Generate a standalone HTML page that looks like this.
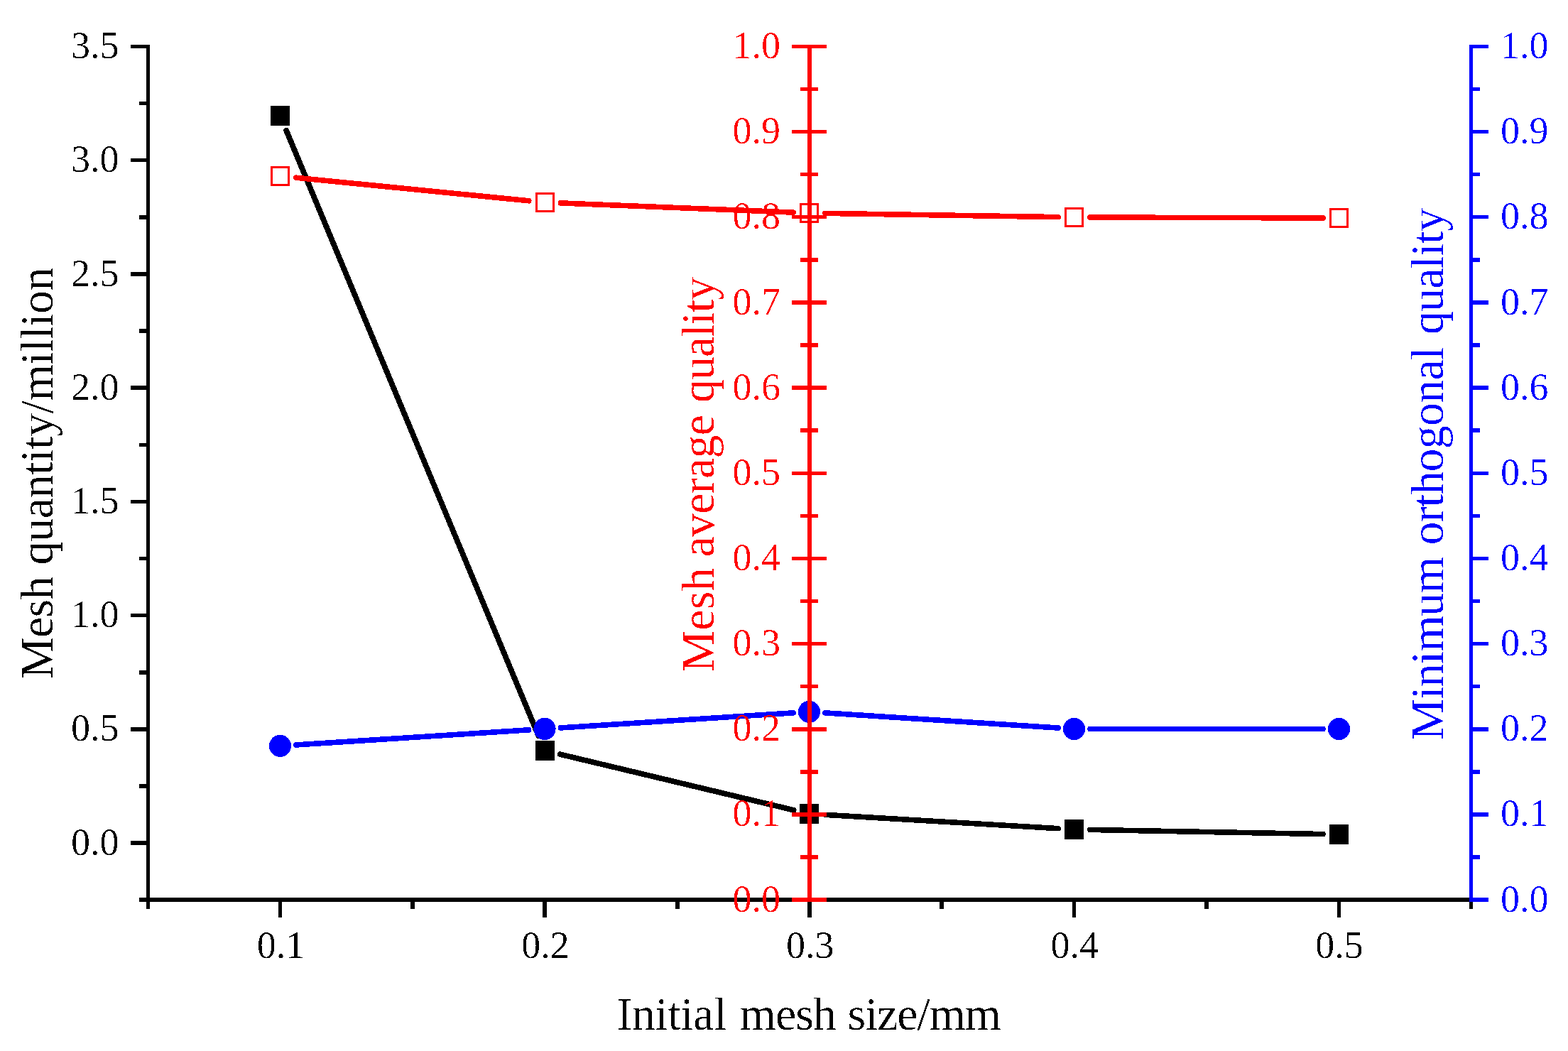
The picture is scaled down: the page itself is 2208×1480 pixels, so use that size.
<!DOCTYPE html>
<html lang="en">
<head>
<meta charset="utf-8">
<title>Mesh independence chart</title>
<style>
html, body { margin: 0; padding: 0; background: #ffffff; }
body { width: 2208px; height: 1480px; overflow: hidden; }
svg { display: block; }
svg text { font-family: "Liberation Serif", serif; white-space: pre; }
svg rect, svg line, svg circle { shape-rendering: crispEdges; }
</style>
</head>
<body>
<svg width="2208" height="1480" viewBox="0 0 2208 1480">
<defs>
<filter id="crisp" filterUnits="userSpaceOnUse" x="0" y="0" width="2208" height="1480" color-interpolation-filters="sRGB">
<feComponentTransfer><feFuncA type="discrete" tableValues="0 0 1"/></feComponentTransfer>
</filter>
</defs>
<rect x="0" y="0" width="2208" height="1480" fill="#ffffff"/>
<g id="layer-black">
<rect x="206" y="63" width="5" height="1207" fill="#000000"/>
<rect x="184" y="1184" width="22" height="6" fill="#000000"/>
<rect x="184" y="1024" width="22" height="6" fill="#000000"/>
<rect x="184" y="864" width="22" height="5" fill="#000000"/>
<rect x="184" y="704" width="22" height="5" fill="#000000"/>
<rect x="184" y="543" width="22" height="6" fill="#000000"/>
<rect x="184" y="383" width="22" height="6" fill="#000000"/>
<rect x="184" y="223" width="22" height="5" fill="#000000"/>
<rect x="184" y="63" width="22" height="5" fill="#000000"/>
<rect x="196" y="1265" width="10" height="5" fill="#000000"/>
<rect x="196" y="1104" width="10" height="6" fill="#000000"/>
<rect x="196" y="944" width="10" height="6" fill="#000000"/>
<rect x="196" y="784" width="10" height="5" fill="#000000"/>
<rect x="196" y="624" width="10" height="5" fill="#000000"/>
<rect x="196" y="463" width="10" height="6" fill="#000000"/>
<rect x="196" y="303" width="10" height="6" fill="#000000"/>
<rect x="196" y="143" width="10" height="5" fill="#000000"/>
<rect x="196" y="1264" width="1878" height="6" fill="#000000"/>
<rect x="392" y="1270" width="5" height="22" fill="#000000"/>
<rect x="764" y="1270" width="6" height="22" fill="#000000"/>
<rect x="1137" y="1270" width="6" height="22" fill="#000000"/>
<rect x="1510" y="1270" width="5" height="22" fill="#000000"/>
<rect x="1883" y="1270" width="5" height="22" fill="#000000"/>
<rect x="206" y="1270" width="5" height="10" fill="#000000"/>
<rect x="578" y="1270" width="6" height="10" fill="#000000"/>
<rect x="951" y="1270" width="6" height="10" fill="#000000"/>
<rect x="1323" y="1270" width="6" height="10" fill="#000000"/>
<rect x="1696" y="1270" width="6" height="10" fill="#000000"/>
<rect x="2069" y="1270" width="5" height="10" fill="#000000"/>
<line x1="403.12" y1="183.68" x2="758.38" y2="1036.32" stroke="#000000" stroke-width="7.8" stroke-linecap="round"/>
<line x1="788.79" y1="1062.21" x2="1117.71" y2="1140.79" stroke="#000000" stroke-width="7.7" stroke-linecap="round"/>
<line x1="1161.86" y1="1147.32" x2="1490.14" y2="1166.68" stroke="#000000" stroke-width="7.6" stroke-linecap="round"/>
<line x1="1534.90" y1="1168.42" x2="1863.10" y2="1174.58" stroke="#000000" stroke-width="7.6" stroke-linecap="round"/>
<rect x="381" y="149" width="27" height="28" fill="#000000"/>
<rect x="754" y="1043" width="27" height="28" fill="#000000"/>
<rect x="1126" y="1132" width="27" height="28" fill="#000000"/>
<rect x="1499" y="1154" width="27" height="28" fill="#000000"/>
<rect x="1872" y="1161" width="27" height="28" fill="#000000"/>
<g class="labels" fill="#000000" filter="url(#crisp)">
<text x="167.5" y="1203.6" font-size="54" text-anchor="end">0.0</text>
<text x="167.5" y="1043.39" font-size="54" text-anchor="end">0.5</text>
<text x="167.5" y="883.171" font-size="54" text-anchor="end">1.0</text>
<text x="167.5" y="722.957" font-size="54" text-anchor="end">1.5</text>
<text x="167.5" y="562.743" font-size="54" text-anchor="end">2.0</text>
<text x="167.5" y="402.529" font-size="54" text-anchor="end">2.5</text>
<text x="167.5" y="242.314" font-size="54" text-anchor="end">3.0</text>
<text x="167.5" y="82.1" font-size="54" text-anchor="end">3.5</text>
<text x="395.5" y="1349.3" font-size="54" text-anchor="middle">0.1</text>
<text x="768.1" y="1349.3" font-size="54" text-anchor="middle">0.2</text>
<text x="1140.7" y="1349.3" font-size="54" text-anchor="middle">0.3</text>
<text x="1513.3" y="1349.3" font-size="54" text-anchor="middle">0.4</text>
<text x="1885.9" y="1349.3" font-size="54" text-anchor="middle">0.5</text>
<text x="868.6" y="1450" font-size="66" text-anchor="start" letter-spacing="-0.500">Initial</text>
<text x="1041.6" y="1450" font-size="66" text-anchor="start" letter-spacing="-1.000">mesh</text>
<text x="1193.6" y="1450" font-size="66" text-anchor="start" letter-spacing="-1.233">size/mm</text>
<text x="74.2" y="956" font-size="66" text-anchor="start" letter-spacing="-0.734" transform="rotate(-90 74.2 956)">Mesh</text>
<text x="74.2" y="795.4" font-size="66" text-anchor="start" letter-spacing="-0.426" transform="rotate(-90 74.2 795.4)">quantity/million</text>
</g>
</g>
<g id="layer-blue">
<line x1="416.85" y1="1048.96" x2="744.65" y2="1027.84" stroke="#0000ff" stroke-width="7.6" stroke-linecap="round"/>
<line x1="789.35" y1="1024.96" x2="1117.15" y2="1003.84" stroke="#0000ff" stroke-width="7.6" stroke-linecap="round"/>
<line x1="1161.85" y1="1003.84" x2="1490.15" y2="1025.06" stroke="#0000ff" stroke-width="7.6" stroke-linecap="round"/>
<line x1="1534.90" y1="1026.50" x2="1863.10" y2="1026.50" stroke="#0000ff" stroke-width="7.6" stroke-linecap="round"/>
<circle cx="394.5" cy="1050.4" r="15.6" fill="#0000ff"/>
<circle cx="767" cy="1026.4" r="15.6" fill="#0000ff"/>
<circle cx="1139.5" cy="1002.4" r="15.6" fill="#0000ff"/>
<circle cx="1512.5" cy="1026.5" r="15.6" fill="#0000ff"/>
<circle cx="1885.5" cy="1026.5" r="15.6" fill="#0000ff"/>
<rect x="2069" y="63" width="5" height="1207" fill="#0000ff"/>
<rect x="2074" y="1264" width="22" height="6" fill="#0000ff"/>
<rect x="2074" y="1144" width="22" height="6" fill="#0000ff"/>
<rect x="2074" y="1024" width="22" height="6" fill="#0000ff"/>
<rect x="2074" y="904" width="22" height="5" fill="#0000ff"/>
<rect x="2074" y="784" width="22" height="5" fill="#0000ff"/>
<rect x="2074" y="664" width="22" height="5" fill="#0000ff"/>
<rect x="2074" y="543" width="22" height="6" fill="#0000ff"/>
<rect x="2074" y="423" width="22" height="6" fill="#0000ff"/>
<rect x="2074" y="303" width="22" height="5" fill="#0000ff"/>
<rect x="2074" y="183" width="22" height="5" fill="#0000ff"/>
<rect x="2074" y="63" width="22" height="5" fill="#0000ff"/>
<rect x="2074" y="1204" width="10" height="6" fill="#0000ff"/>
<rect x="2074" y="1084" width="10" height="6" fill="#0000ff"/>
<rect x="2074" y="964" width="10" height="5" fill="#0000ff"/>
<rect x="2074" y="844" width="10" height="5" fill="#0000ff"/>
<rect x="2074" y="724" width="10" height="5" fill="#0000ff"/>
<rect x="2074" y="603" width="10" height="6" fill="#0000ff"/>
<rect x="2074" y="483" width="10" height="6" fill="#0000ff"/>
<rect x="2074" y="363" width="10" height="6" fill="#0000ff"/>
<rect x="2074" y="243" width="10" height="5" fill="#0000ff"/>
<rect x="2074" y="123" width="10" height="5" fill="#0000ff"/>
<g class="labels" fill="#0000ff" filter="url(#crisp)">
<text x="2113" y="1283.6" font-size="54" text-anchor="start">0.0</text>
<text x="2113" y="1163.45" font-size="54" text-anchor="start">0.1</text>
<text x="2113" y="1043.3" font-size="54" text-anchor="start">0.2</text>
<text x="2113" y="923.15" font-size="54" text-anchor="start">0.3</text>
<text x="2113" y="803" font-size="54" text-anchor="start">0.4</text>
<text x="2113" y="682.85" font-size="54" text-anchor="start">0.5</text>
<text x="2113" y="562.7" font-size="54" text-anchor="start">0.6</text>
<text x="2113" y="442.55" font-size="54" text-anchor="start">0.7</text>
<text x="2113" y="322.4" font-size="54" text-anchor="start">0.8</text>
<text x="2113" y="202.25" font-size="54" text-anchor="start">0.9</text>
<text x="2113" y="82.1" font-size="54" text-anchor="start">1.0</text>
<text x="2032.3" y="1042.6" font-size="66" text-anchor="start" letter-spacing="-0.899" transform="rotate(-90 2032.3 1042.6)">Minimum</text>
<text x="2032.3" y="767.6" font-size="66" text-anchor="start" letter-spacing="-0.778" transform="rotate(-90 2032.3 767.6)">orthogonal</text>
<text x="2032.3" y="471" font-size="66" text-anchor="start" letter-spacing="-0.901" transform="rotate(-90 2032.3 471)">quality</text>
</g>
</g>
<g id="layer-red">
<line x1="416.79" y1="250.21" x2="744.71" y2="282.79" stroke="#ff0000" stroke-width="7.6" stroke-linecap="round"/>
<line x1="789.38" y1="285.90" x2="1117.12" y2="299.10" stroke="#ff0000" stroke-width="7.6" stroke-linecap="round"/>
<line x1="1161.90" y1="300.36" x2="1490.10" y2="305.64" stroke="#ff0000" stroke-width="7.6" stroke-linecap="round"/>
<line x1="1534.90" y1="306.06" x2="1863.10" y2="306.94" stroke="#ff0000" stroke-width="7.6" stroke-linecap="round"/>
<rect x="382.5" y="235.5" width="24" height="25" fill="none" stroke="#ff0000" stroke-width="3"/>
<rect x="755.5" y="272.5" width="24" height="25" fill="none" stroke="#ff0000" stroke-width="3"/>
<rect x="1127.5" y="287.5" width="24" height="25" fill="none" stroke="#ff0000" stroke-width="3"/>
<rect x="1500.5" y="293.5" width="24" height="25" fill="none" stroke="#ff0000" stroke-width="3"/>
<rect x="1873.5" y="294.5" width="24" height="25" fill="none" stroke="#ff0000" stroke-width="3"/>
<rect x="1137" y="63" width="6" height="1207" fill="#ff0000"/>
<rect x="1115" y="1264" width="49" height="6" fill="#ff0000"/>
<rect x="1115" y="1144" width="49" height="6" fill="#ff0000"/>
<rect x="1115" y="1024" width="49" height="6" fill="#ff0000"/>
<rect x="1115" y="904" width="49" height="5" fill="#ff0000"/>
<rect x="1115" y="784" width="49" height="5" fill="#ff0000"/>
<rect x="1115" y="664" width="49" height="5" fill="#ff0000"/>
<rect x="1115" y="543" width="49" height="6" fill="#ff0000"/>
<rect x="1115" y="423" width="49" height="6" fill="#ff0000"/>
<rect x="1115" y="303" width="49" height="5" fill="#ff0000"/>
<rect x="1115" y="183" width="49" height="5" fill="#ff0000"/>
<rect x="1115" y="63" width="49" height="5" fill="#ff0000"/>
<rect x="1127" y="1204" width="25" height="6" fill="#ff0000"/>
<rect x="1127" y="1084" width="25" height="6" fill="#ff0000"/>
<rect x="1127" y="964" width="25" height="5" fill="#ff0000"/>
<rect x="1127" y="844" width="25" height="5" fill="#ff0000"/>
<rect x="1127" y="724" width="25" height="5" fill="#ff0000"/>
<rect x="1127" y="603" width="25" height="6" fill="#ff0000"/>
<rect x="1127" y="483" width="25" height="6" fill="#ff0000"/>
<rect x="1127" y="363" width="25" height="6" fill="#ff0000"/>
<rect x="1127" y="243" width="25" height="5" fill="#ff0000"/>
<rect x="1127" y="123" width="25" height="5" fill="#ff0000"/>
<g class="labels" fill="#ff0000" filter="url(#crisp)">
<text x="1099" y="1283.6" font-size="54" text-anchor="end">0.0</text>
<text x="1099" y="1163.45" font-size="54" text-anchor="end">0.1</text>
<text x="1099" y="1043.3" font-size="54" text-anchor="end">0.2</text>
<text x="1099" y="923.15" font-size="54" text-anchor="end">0.3</text>
<text x="1099" y="803" font-size="54" text-anchor="end">0.4</text>
<text x="1099" y="682.85" font-size="54" text-anchor="end">0.5</text>
<text x="1099" y="562.7" font-size="54" text-anchor="end">0.6</text>
<text x="1099" y="442.55" font-size="54" text-anchor="end">0.7</text>
<text x="1099" y="322.4" font-size="54" text-anchor="end">0.8</text>
<text x="1099" y="202.25" font-size="54" text-anchor="end">0.9</text>
<text x="1099" y="82.1" font-size="54" text-anchor="end">1.0</text>
<text x="1005.2" y="946.4" font-size="66" text-anchor="start" letter-spacing="0.067" transform="rotate(-90 1005.2 946.4)">Mesh</text>
<text x="1005.2" y="784.6" font-size="66" text-anchor="start" letter-spacing="-0.733" transform="rotate(-90 1005.2 784.6)">average</text>
<text x="1005.2" y="567" font-size="66" text-anchor="start" letter-spacing="-1.034" transform="rotate(-90 1005.2 567)">quality</text>
</g>
</g>
</svg>
</body>
</html>
